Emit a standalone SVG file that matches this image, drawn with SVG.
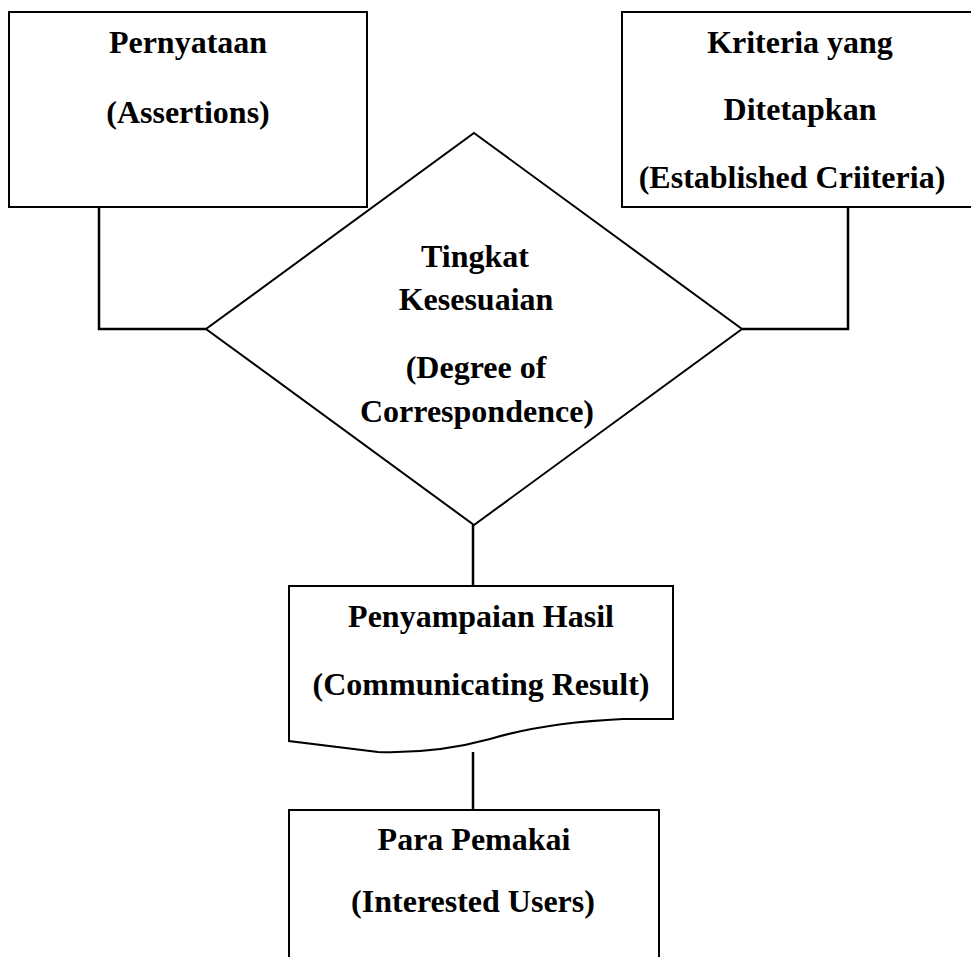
<svg xmlns="http://www.w3.org/2000/svg" width="971" height="957" viewBox="0 0 971 957">
<style>
.shape{fill:#fff;stroke:#000;stroke-width:2}
.conn{fill:none;stroke:#000;stroke-width:2.5}
.t{font-family:"Liberation Serif","Times New Roman",serif;font-weight:bold;font-size:32px;fill:#000;text-anchor:middle}
</style>
<rect width="971" height="957" fill="#fff"/>
<g id="connectors">
<polyline class="conn" points="99,207 99,329 206,329"/>
<polyline class="conn" points="848,207 848,329 742,329"/>
<line class="conn" x1="473" y1="525" x2="473" y2="586"/>
<line class="conn" x1="473" y1="752" x2="473" y2="810"/>
</g>
<g id="assertions">
<rect class="shape" x="9" y="12" width="358" height="195"/>
<text class="t" x="188" y="53">Pernyataan</text>
<text class="t" x="188" y="123">(Assertions)</text>
</g>
<g id="criteria">
<rect class="shape" x="622" y="12" width="360" height="195"/>
<text class="t" x="800" y="53">Kriteria yang</text>
<text class="t" x="800" y="120">Ditetapkan</text>
<text class="t" x="792" y="188">(Established Criiteria)</text>
</g>
<g id="correspondence">
<polygon class="shape" points="474,133 742,329 474,525 206,329"/>
<text class="t" x="475" y="267">Tingkat</text>
<text class="t" x="476" y="310">Kesesuaian</text>
<text class="t" x="476" y="378">(Degree of</text>
<text class="t" x="477" y="422">Correspondence)</text>
</g>
<g id="communicating">
<path class="shape" d="M289,586 H673 V719 H623 C560,722 520,730 490,739 C450,750 410,753 378,752 L289,741 Z"/>
<text class="t" x="481" y="627">Penyampaian Hasil</text>
<text class="t" x="481" y="695">(Communicating Result)</text>
</g>
<g id="users">
<rect class="shape" x="289" y="810" width="370" height="160"/>
<text class="t" x="474" y="850">Para Pemakai</text>
<text class="t" x="473" y="912">(Interested Users)</text>
</g>
</svg>
